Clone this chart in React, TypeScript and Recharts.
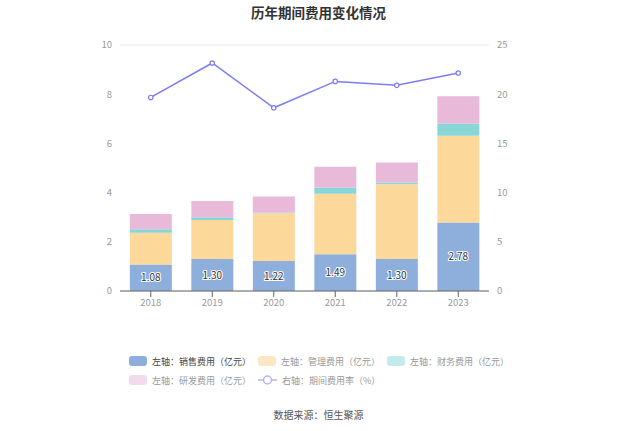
import React from "react";
import { Bar, CartesianGrid, ComposedChart, LabelList, Line, XAxis, YAxis } from "recharts";

const years = ["2018", "2019", "2020", "2021", "2022", "2023"];
const salesCost = [1.08, 1.3, 1.22, 1.49, 1.3, 2.78];
const adminCost = [1.29, 1.59, 1.94, 2.46, 3.04, 3.53];
const financeCost = [0.14, 0.11, 0.03, 0.26, 0.07, 0.5];
const rdCost = [0.62, 0.66, 0.65, 0.84, 0.81, 1.11];
const expenseRate = [19.67, 23.17, 18.62, 21.3, 20.9, 22.15];

const leftTicks = [0, 2, 4, 6, 8, 10];
const rightTicks = [0, 5, 10, 15, 20, 25];

const data = years.map((year, i) => ({
  year,
  sales: salesCost[i],
  admin: adminCost[i],
  finance: financeCost[i],
  rd: rdCost[i],
  rate: expenseRate[i],
}));

const FONT = '"Noto Sans CJK SC", "Noto Sans", sans-serif';

const legendItems = [
  { label: "左轴：销售费用（亿元）", color: "#8eaedc", text: "#444", x: 129, y: 361 },
  { label: "左轴：管理费用（亿元）", color: "#fde6c3", text: "#999", x: 258, y: 361 },
  { label: "左轴：财务费用（亿元）", color: "#c3eaec", text: "#999", x: 387, y: 361 },
  { label: "左轴：研发费用（亿元）", color: "#f4dbec", text: "#999", x: 129, y: 380 },
];

export default function App() {
  const tick = { fontSize: 9.5, fill: "#999", fontFamily: FONT };
  return (
    <div style={{ position: "absolute", left: 0, top: 0, width: 637, height: 431, background: "#fff", fontFamily: FONT }}>
      <div style={{ position: "absolute", top: 2, width: 637, textAlign: "center", fontSize: 13.5, fontWeight: "bold", color: "#333" }}>
        历年期间费用变化情况
      </div>
      <ComposedChart
        width={637}
        height={431}
        data={data}
        margin={{ top: 45, right: 113, left: 85, bottom: 110 }}
        barCategoryGap="16%"
      >
        <CartesianGrid vertical={false} stroke="#e8ebf3" />
        <XAxis
          dataKey="year"
          tick={tick}
          tickLine={{ stroke: "#666" }}
          axisLine={{ stroke: "#666" }}
          height={30}
        />
        <YAxis
          yAxisId="left"
          domain={[0, 10]}
          ticks={leftTicks}
          tick={tick}
          axisLine={false}
          tickLine={false}
          width={35}
        />
        <YAxis
          yAxisId="right"
          orientation="right"
          domain={[0, 25]}
          ticks={rightTicks}
          tick={tick}
          axisLine={false}
          tickLine={false}
          width={35}
        />
        <Bar yAxisId="left" dataKey="sales" stackId="a" fill="#8eaedc" isAnimationActive={false}>
          <LabelList
            dataKey="sales"
            position="center"
            formatter={(v: number) => v.toFixed(2)}
            style={{ fontSize: 10, fill: "#333", stroke: "#fff", strokeWidth: 2, paintOrder: "stroke", fontFamily: FONT }}
          />
        </Bar>
        <Bar yAxisId="left" dataKey="admin" stackId="a" fill="#fdd89b" isAnimationActive={false} />
        <Bar yAxisId="left" dataKey="finance" stackId="a" fill="#88d6d8" isAnimationActive={false} />
        <Bar yAxisId="left" dataKey="rd" stackId="a" fill="#e8b9d9" isAnimationActive={false} />
        <Line
          yAxisId="right"
          dataKey="rate"
          stroke="#7c7cf5"
          strokeWidth={1.5}
          dot={{ r: 2.2, fill: "#fff", stroke: "#7c7cf5", strokeWidth: 1.2 }}
          isAnimationActive={false}
        />
      </ComposedChart>
      {legendItems.map((item) => (
        <div key={item.label} style={{ position: "absolute", left: item.x, top: item.y - 6, height: 12, display: "flex", alignItems: "center" }}>
          <div style={{ width: 18, height: 10, borderRadius: 3, background: item.color, marginRight: 5 }} />
          <span style={{ fontSize: 9, color: item.text, whiteSpace: "nowrap" }}>{item.label}</span>
        </div>
      ))}
      <div style={{ position: "absolute", left: 258, top: 374, height: 12, display: "flex", alignItems: "center" }}>
        <svg width={19} height={12} style={{ marginRight: 5 }}>
          <line x1={0} y1={6} x2={19} y2={6} stroke="#b4b4f6" strokeWidth={1.5} />
          <circle cx={9.5} cy={6} r={4} fill="#fff" stroke="#b4b4f6" strokeWidth={1.5} />
        </svg>
        <span style={{ fontSize: 9, color: "#999", whiteSpace: "nowrap" }}>右轴：期间费用率（%）</span>
      </div>
      <div style={{ position: "absolute", top: 407, width: 637, textAlign: "center", fontSize: 10, color: "#555" }}>
        数据来源：恒生聚源
      </div>
    </div>
  );
}
